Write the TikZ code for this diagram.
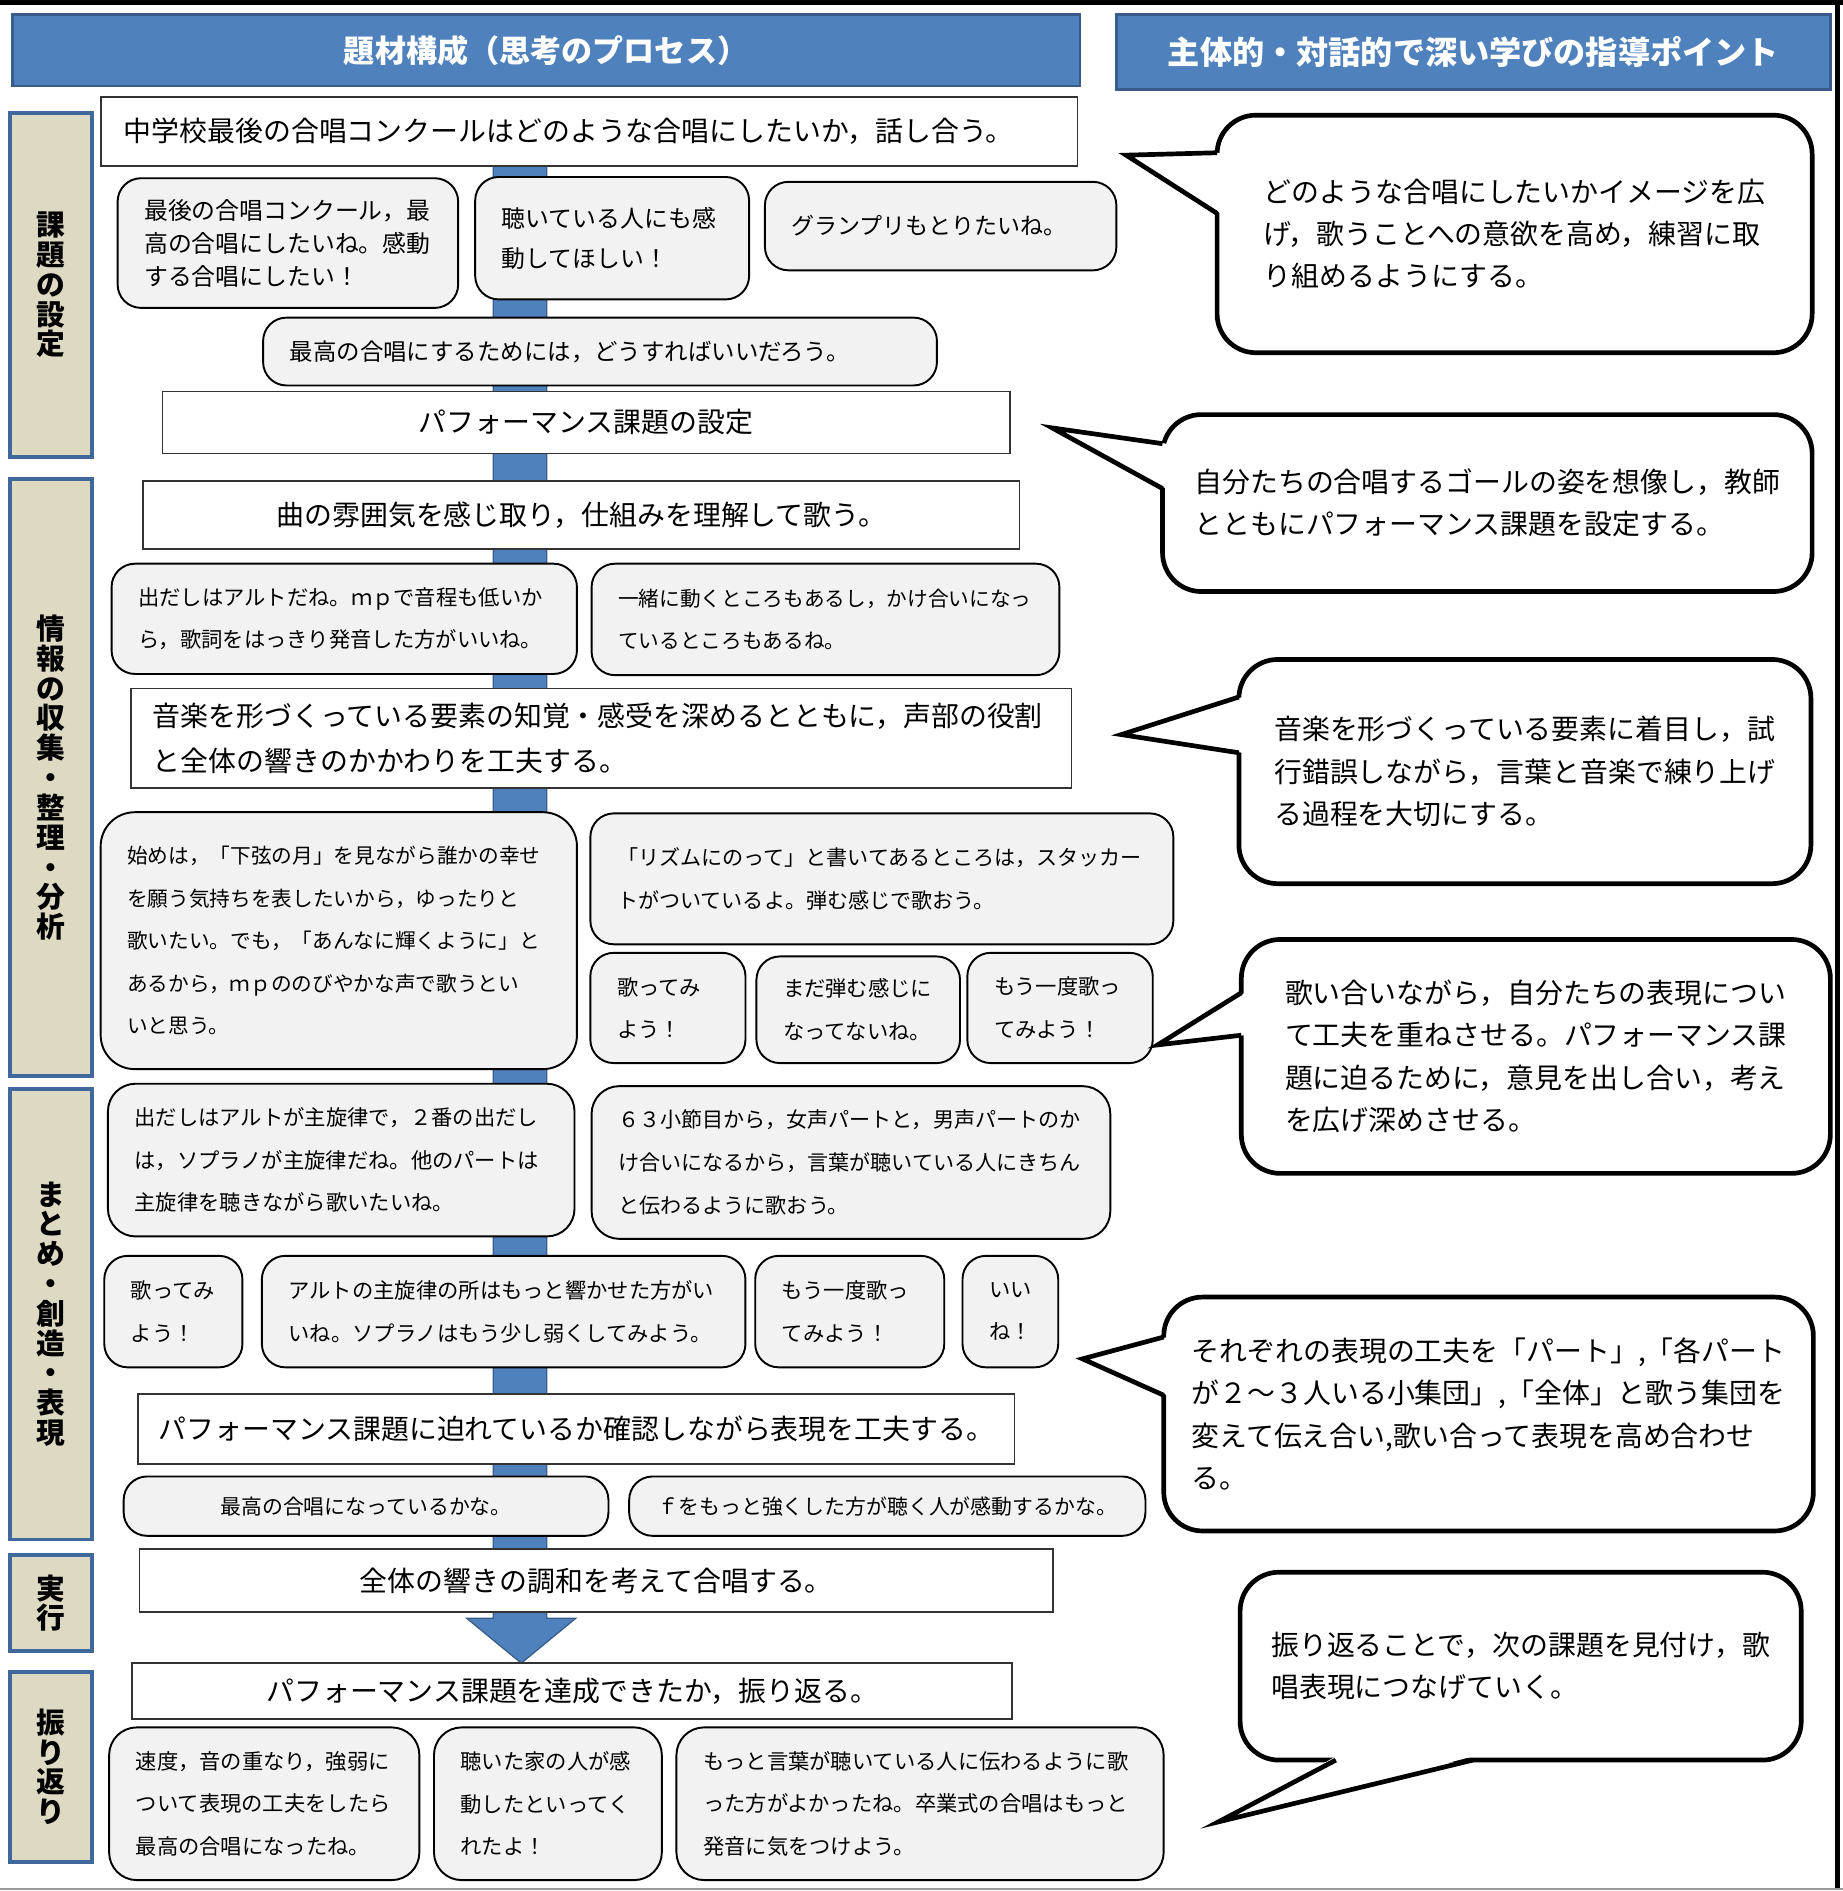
\documentclass[tikz,border=0pt]{standalone}
\usepackage{fontspec}
\setmainfont{Noto Sans CJK JP}
\definecolor{hblue}{HTML}{4F81BD}
\definecolor{hedge}{HTML}{385D8A}
\definecolor{stagetan}{HTML}{DDD9C3}
\definecolor{stageedge}{HTML}{41689A}
\definecolor{talkgray}{HTML}{F2F2F2}
\begin{document}
\begin{tikzpicture}[x=0.02cm, y=-0.02cm,
  headbar/.style={fill=hblue, draw=hedge, line width=1.2pt, text=white, inner sep=0},
  stage/.style={fill=stagetan, draw=stageedge, line width=1.8pt, align=center, inner sep=0,
    minimum width=1.36cm, font=\bfseries\fontsize{13.5}{14}\selectfont},
  task/.style={draw=black!80, fill=white, line width=0.8pt, inner sep=0, align=center,
    font=\fontsize{13.1}{21}\selectfont},
  talk/.style={draw=black, fill=talkgray, line width=0.9pt, rounded corners=11pt,
    inner xsep=0.44cm, inner ysep=0, align=left, font=\fontsize{10}{20}\selectfont},
  callout/.style={draw=black, fill=white, line width=2.2pt, rounded corners=0.64cm,
    inner sep=0, align=left, font=\fontsize{13.1}{19.8}\selectfont},
  pointer/.style={draw=black, line width=2.2pt, line join=miter}]

  \useasboundingbox (0,0) rectangle (1520,1560);

  % Rahmen
  \fill[black] (0,0) rectangle (1520,4.5);
  \fill[black] (1514,0) rectangle (1518,1558);
  \draw[black!40, line width=0.8pt] (0,1558.5) -- (1520,1558.5);

  % Kopfzeile
  \node[headbar, minimum width=17.62cm, minimum height=1.18cm, font=\bfseries\fontsize{14.6}{18}\selectfont]
    (head1) at (450.5,41.5) {題材構成（思考のプロセス）};
  \node[headbar, minimum width=11.78cm, minimum height=1.24cm, font=\bfseries\fontsize{15.1}{18}\selectfont]
    (head2) at (1215.5,43) {主体的・対話的で深い学びの指導ポイント};

  % Phasen
  \node[stage, minimum height=5.68cm] (setting) at (42,235) {課\\題\\の\\設\\定};
  \node[stage, minimum height=9.86cm] (gather) at (42,641.5) {情\\報\\の\\収\\集\\・\\整\\理\\・\\分\\析};
  \node[stage, minimum height=7.44cm] (express) at (42,1084) {ま\\と\\め\\・\\創\\造\\・\\表\\現};
  \node[stage, minimum height=1.58cm] (perform) at (42,1322.5) {実\\行};
  \node[stage, minimum height=3.14cm] (reflect) at (42,1457.5) {振\\り\\返\\り};

  % Pfeil
  \draw[fill=hblue, draw=hedge, line width=0.6pt] (407,137) -- (451,137) -- (451,1335)
    -- (475,1335) -- (430,1372) -- (385,1335) -- (407,1335) -- cycle;

  % Inhalt
  \node[task, text width=15.36cm, inner xsep=0.38cm, align=left, minimum height=1.14cm]
    (talkabout) at (486,108.5) {中学校最後の合唱コンクールはどのような合唱にしたいか，話し合う。};
  \node[talk, text width=4.74cm, minimum height=2.14cm, font=\fontsize{11.2}{15.5}\selectfont]
    (wish) at (237.5,200.5) {最後の合唱コンクール，最\\高の合唱にしたいね。感動\\する合唱にしたい！};
  \node[talk, text width=3.64cm, minimum height=2.02cm, font=\fontsize{11.2}{19}\selectfont]
    (moved) at (505,196.5) {聴いている人にも感\\動してほしい！};
  \node[talk, text width=4.92cm, minimum height=1.46cm, font=\fontsize{10.8}{19}\selectfont]
    (grandprix) at (776,186.5) {グランプリもとりたいね。};
  \node[talk, text width=10.24cm, minimum height=1.12cm, font=\fontsize{11}{19}\selectfont]
    (how) at (495,290) {最高の合唱にするためには，どうすればいいだろう。};
  \node[task, minimum width=13.98cm, minimum height=1.02cm] (goal) at (483.5,348.5) {パフォーマンス課題の設定};

  \node[task, minimum width=14.46cm, minimum height=1.12cm] (mood) at (479.5,425) {曲の雰囲気を感じ取り，仕組みを理解して歌う。};
  \node[talk, text width=6.80cm, minimum height=1.82cm]
    (alto) at (284,510.5) {出だしはアルトだね。ｍｐで音程も低いか\\ら，歌詞をはっきり発音した方がいいね。};
  \node[talk, text width=6.84cm, minimum height=1.84cm, font=\fontsize{9.7}{20}\selectfont]
    (dialog) at (681,511) {一緒に動くところもあるし，かけ合いになっ\\ているところもあるね。};
  \node[task, text width=14.8cm, inner xsep=0.36cm, align=left, minimum height=1.64cm]
    (elements) at (496,609) {音楽を形づくっている要素の知覚・感受を深めるとともに，声部の役割\\と全体の響きのかかわりを工夫する。};
  \node[talk, text width=6.98cm, minimum height=4.24cm, rounded corners=16pt, font=\fontsize{9.7}{20}\selectfont]
    (moon) at (279.5,776) {始めは，「下弦の月」を見ながら誰かの幸せ\\を願う気持ちを表したいから，ゆったりと\\歌いたい。でも，「あんなに輝くように」と\\あるから，ｍｐののびやかな声で歌うとい\\いと思う。};
  \node[talk, text width=8.74cm, minimum height=2.16cm, font=\fontsize{9.9}{20}\selectfont]
    (rhythm) at (727.5,725) {「リズムにのって」と書いてあるところは，スタッカー\\トがついているよ。弾む感じで歌おう。};
  \node[talk, text width=1.68cm, minimum height=1.82cm] (tryA) at (551,831.5) {歌ってみ\\よう！};
  \node[talk, text width=2.48cm, minimum height=1.76cm] (notyet) at (708,833) {まだ弾む感じに\\なってないね。};
  \node[talk, text width=2.18cm, minimum height=1.82cm] (againA) at (874.5,831.5) {もう一度歌っ\\てみよう！};

  \node[talk, text width=6.82cm, minimum height=2.52cm, rounded corners=13pt]
    (melody) at (281.5,957) {出だしはアルトが主旋律で，２番の出だし\\は，ソプラノが主旋律だね。他のパートは\\主旋律を聴きながら歌いたいね。};
  \node[talk, text width=7.68cm, minimum height=2.52cm, rounded corners=13pt, font=\fontsize{9.9}{20}\selectfont]
    (bar63) at (702,959) {６３小節目から，女声パートと，男声パートのか\\け合いになるから，言葉が聴いている人にきちん\\と伝わるように歌おう。};
  \node[talk, text width=1.40cm, minimum height=1.84cm] (tryB) at (143,1082) {歌ってみ\\よう！};
  \node[talk, text width=7.10cm, minimum height=1.84cm]
    (balance) at (415.5,1082) {アルトの主旋律の所はもっと響かせた方がい\\いね。ソプラノはもう少し弱くしてみよう。};
  \node[talk, text width=2.24cm, minimum height=1.84cm] (againB) at (701,1082) {もう一度歌っ\\てみよう！};
  \node[talk, text width=0.70cm, minimum height=1.84cm] (good) at (833.5,1082) {いい\\ね！};
  \node[task, minimum width=14.46cm, minimum height=1.16cm] (check) at (475.5,1179) {パフォーマンス課題に迫れているか確認しながら表現を工夫する。};
  \node[talk, minimum width=8.0cm, minimum height=0.98cm, font=\fontsize{9.8}{20}\selectfont]
    (best) at (302,1242.5) {最高の合唱になっているかな。};
  \node[talk, minimum width=8.52cm, minimum height=0.98cm, font=\fontsize{9.8}{20}\selectfont]
    (forte) at (732,1242.5) {ｆをもっと強くした方が聴く人が感動するかな。};

  \node[task, minimum width=15.08cm, minimum height=1.04cm] (harmony) at (492,1304) {全体の響きの調和を考えて合唱する。};
  \node[task, minimum width=14.52cm, minimum height=0.92cm] (review) at (472,1395) {パフォーマンス課題を達成できたか，振り返る。};
  \node[talk, text width=4.24cm, minimum height=2.52cm, rounded corners=13pt]
    (tempo) at (218,1488) {速度，音の重なり，強弱に\\ついて表現の工夫をしたら\\最高の合唱になったね。};
  \node[talk, text width=2.88cm, minimum height=2.52cm, rounded corners=13pt]
    (family) at (452,1488) {聴いた家の人が感\\動したといってく\\れたよ！};
  \node[talk, text width=7.16cm, minimum height=2.52cm, rounded corners=13pt]
    (diction) at (759,1488) {もっと言葉が聴いている人に伝わるように歌\\った方がよかったね。卒業式の合唱はもっと\\発音に気をつけよう。};

  % Hinweise
  \node[callout, minimum width=9.82cm, minimum height=3.92cm] (tipImage) at (1249.5,193)
    {どのような合唱にしたいかイメージを広\\げ，歌うことへの意欲を高め，練習に取\\り組めるようにする。};
  \fill[white] (1007,126) -- (929,128) -- (1007,176) -- cycle;
  \draw[pointer] (1004,126) -- (929,128) -- (1004,176);

  \node[callout, minimum width=10.72cm, minimum height=2.92cm] (tipGoal) at (1227,415)
    {自分たちの合唱するゴールの姿を想像し，教師\\とともにパフォーマンス課題を設定する。};
  \fill[white] (962,366) -- (868,353) -- (962,403) -- cycle;
  \draw[pointer] (959,366) -- (868,353) -- (959,403);

  \node[callout, minimum width=9.44cm, minimum height=3.70cm] (tipElements) at (1258,636.5)
    {音楽を形づくっている要素に着目し，試\\行錯誤しながら，言葉と音楽で練り上げ\\る過程を大切にする。};
  \fill[white] (1025,575) -- (925,606) -- (1025,621) -- cycle;
  \draw[pointer] (1022,575) -- (925,606) -- (1022,621);

  \node[callout, minimum width=9.72cm, minimum height=3.86cm] (tipSinging) at (1267,871.5)
    {歌い合いながら，自分たちの表現につい\\て工夫を重ねさせる。パフォーマンス課\\題に迫るために，意見を出し合い，考え\\を広げ深めさせる。};
  \fill[white] (1027,819) -- (955,862) -- (1027,854) -- cycle;
  \draw[pointer] (1024,819) -- (955,862) -- (1024,854);

  \node[callout, minimum width=10.72cm, minimum height=3.86cm] (tipGroups) at (1228,1166.5)
    {それぞれの表現の工夫を「パート」,「各パート\\が２～３人いる小集団」,「全体」と歌う集団を\\変えて伝え合い,歌い合って表現を高め合わせ\\る。};
  \fill[white] (963,1103) -- (893,1121) -- (963,1151) -- cycle;
  \draw[pointer] (960,1103) -- (893,1121) -- (960,1151);

  \node[callout, minimum width=9.26cm, minimum height=3.10cm] (tipReflect) at (1254.5,1374.5)
    {振り返ることで，次の課題を見付け，歌\\唱表現につなげていく。};
  \fill[white] (1102,1449) -- (1005,1503) -- (1215,1449) -- cycle;
  \draw[pointer] (1102,1452) -- (1005,1503) -- (1215,1452);

\end{tikzpicture}
\end{document}
